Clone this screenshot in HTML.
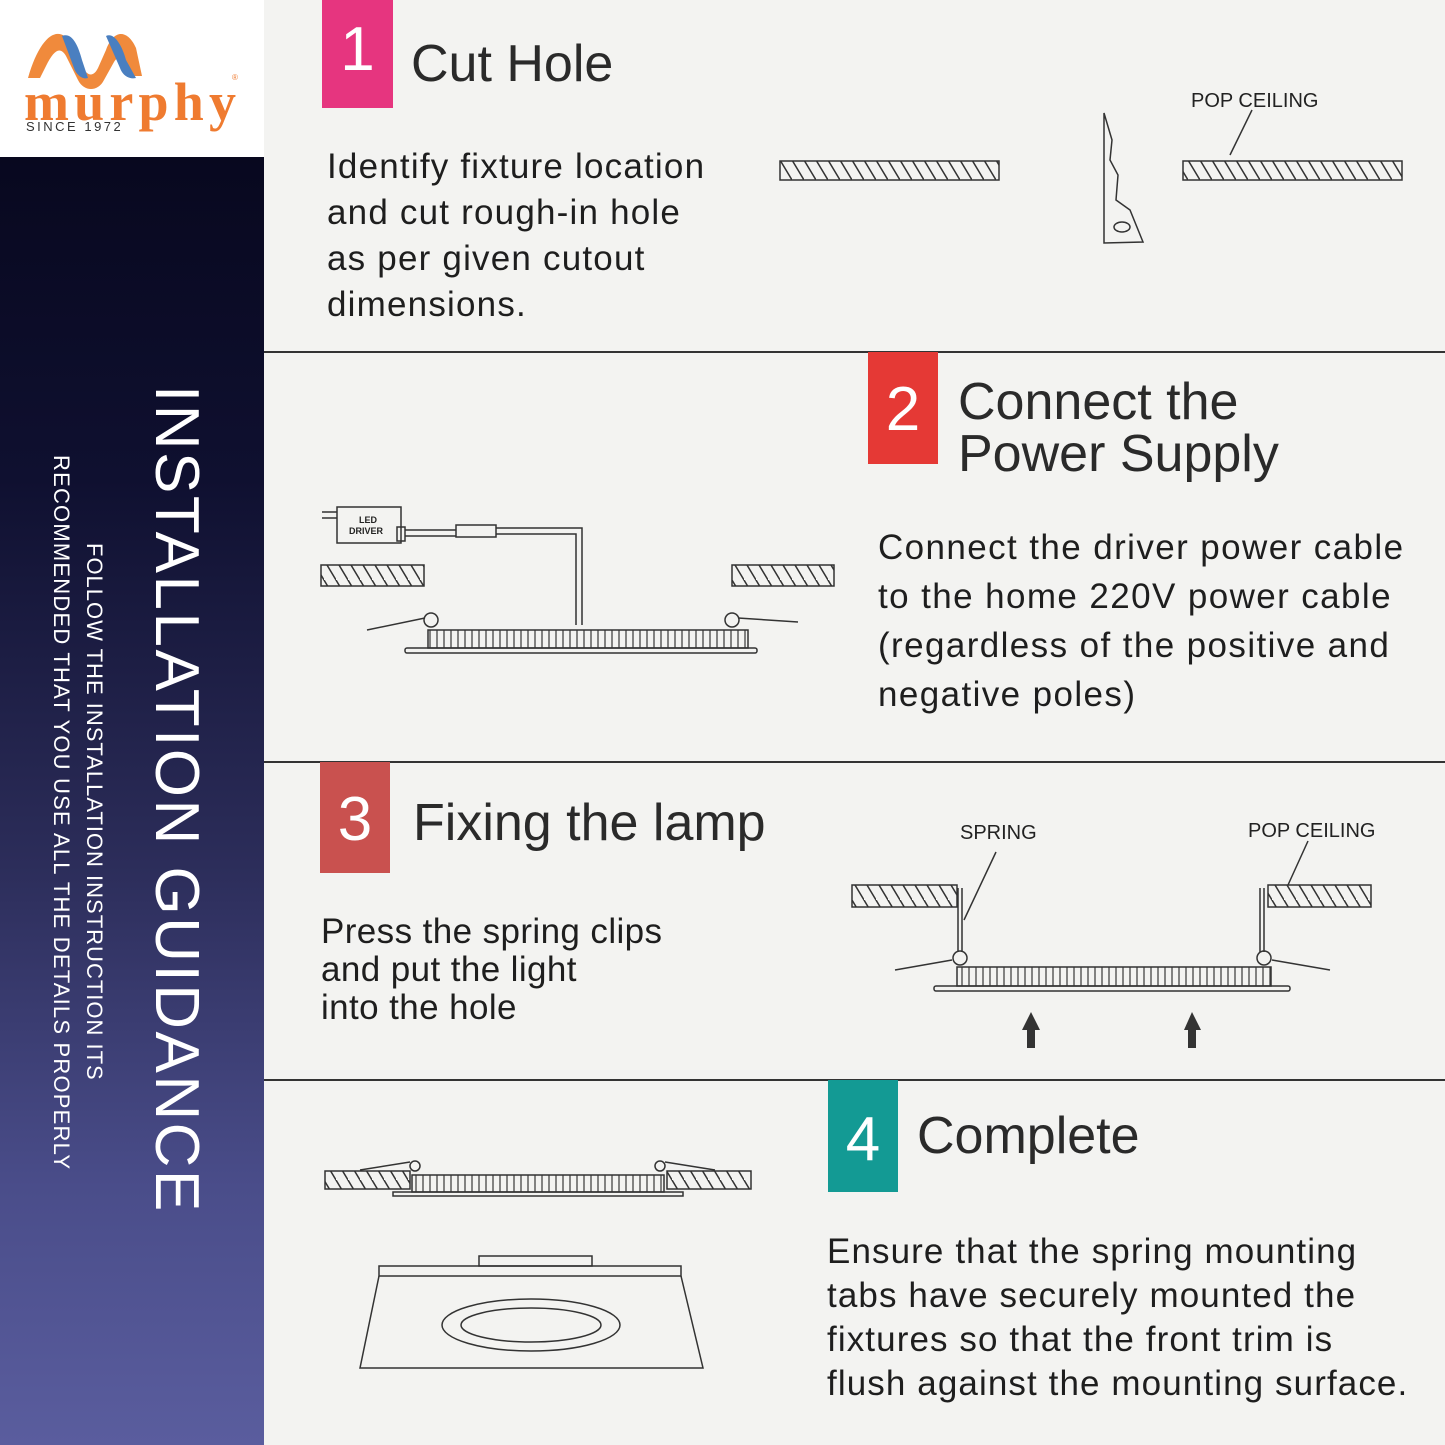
<!DOCTYPE html>
<html><head><meta charset="utf-8"><style>
html,body{margin:0;padding:0}
body{width:1445px;height:1445px;overflow:hidden;background:#f3f3f1;position:relative;font-family:"Liberation Sans",sans-serif}
.side{position:absolute;left:0;top:157px;width:264px;height:1288px;background:linear-gradient(180deg,#08081f 0%,#0f1030 25%,#2c2d5a 55%,#4a4d8a 80%,#5a5d9e 100%)}
.logo{position:absolute;left:0;top:0;width:264px;height:157px;background:#fff}
.t{position:absolute;color:#222;white-space:nowrap}
.num{position:absolute;color:#fff;font-size:62px;text-align:center}
.h{font-size:52px;line-height:52px;color:#2a2a2a}
.b{font-size:35px;line-height:46px;color:#1e1e1e;letter-spacing:1.2px}
.rot{position:absolute;transform-origin:0 0;transform:rotate(90deg);color:#fff;white-space:nowrap}
</style></head><body>
<div class="logo">
<svg width="264" height="157" style="position:absolute;left:0;top:0">
<path d="M28 78 C40 36,58 24,70 42 L82 66 C88 78,94 76,98 68 L106 50 C114 28,128 30,136 48 L142 76 L128 76 C122 60,118 55,114 62 L104 80 C98 92,84 92,78 80 L66 56 C60 46,54 50,46 66 L40 78 Z" fill="#f08a3c"/>
<path d="M62 36 C72 32,78 45,82 60 L88 78 C82 80,76 74,74 68 Z M106 36 C114 32,122 45,126 60 L136 78 C128 80,122 74,120 68 Z" fill="#4a7fc0"/>
<text x="24" y="120" font-family="Liberation Serif,serif" font-weight="bold" font-size="54" fill="#ef7b30" textLength="212">murphy</text>
<text x="232" y="80" font-size="8" fill="#ef7b30">®</text>
<text x="26" y="131" font-size="13" fill="#333" letter-spacing="2.5">SINCE 1972</text>
</svg></div>
<div class="side"></div>
<div class="rot" style="left:212px;top:385px;font-size:62px;letter-spacing:2.5px">INSTALLATION GUIDANCE</div>
<div class="rot" style="left:107px;top:543px;font-size:22px;letter-spacing:1px">FOLLOW THE INSTALLATION INSTRUCTION ITS</div>
<div class="rot" style="left:74px;top:455px;font-size:22px;letter-spacing:1.2px">RECOMMENDED THAT YOU USE ALL THE DETAILS PROPERLY</div>

<svg width="1445" height="1445" style="position:absolute;left:0;top:0">
<defs>
<pattern id="hat" width="12" height="20" patternUnits="userSpaceOnUse"><path d="M0 0 L12 20 M-6 -10 L6 10 M6 -10 L18 10" stroke="#333" stroke-width="1.5"/></pattern>
<pattern id="fin" width="7" height="20" patternUnits="userSpaceOnUse"><path d="M3 0 V20" stroke="#444" stroke-width="1.3"/></pattern>
</defs>
<g stroke="#333" stroke-width="2">
<line x1="264" y1="352" x2="1445" y2="352"/>
<line x1="264" y1="762" x2="1445" y2="762"/>
<line x1="264" y1="1080" x2="1445" y2="1080"/>
</g>
<rect x="322" y="0" width="71" height="108" fill="#e6357f"/>
<rect x="868" y="352" width="70" height="112" fill="#e53935"/>
<rect x="320" y="762" width="70" height="111" fill="#c9514f"/>
<rect x="828" y="1080" width="70" height="112" fill="#139a94"/>
<g fill="url(#hat)" stroke="#333" stroke-width="1.5">
<rect x="780" y="161" width="219" height="19"/><rect x="1183" y="161" width="219" height="19"/>
<rect x="321" y="565" width="103" height="21"/><rect x="732" y="565" width="102" height="21"/>
<rect x="852" y="885" width="105" height="22"/><rect x="1268" y="885" width="103" height="22"/>
<rect x="325" y="1171" width="85" height="18"/><rect x="667" y="1171" width="84" height="18"/>
</g>
<g fill="none" stroke="#333" stroke-width="1.5">
<path d="M1104 113 L1112 140 L1110 160 L1118 175 L1116 200 L1130 210 L1143 242 L1104 243 Z"/><ellipse cx="1122" cy="227" rx="8" ry="5"/>
<line x1="1230" y1="155" x2="1252" y2="110"/>
<rect x="337" y="507" width="64" height="36"/><rect x="397" y="527" width="8" height="14"/>
<path d="M322 512 H337 M322 518 H337 M405 530 H456 M405 536 H456"/><rect x="456" y="525" width="40" height="12"/>
<path d="M496 528 H582 V625 M496 534 H576 V625"/>
<rect x="428" y="630" width="320" height="18" fill="url(#fin)"/><rect x="405" y="648" width="352" height="5" rx="2"/>
<circle cx="431" cy="620" r="7"/><circle cx="732" cy="620" r="7"/><path d="M367 630 L425 618 M738 618 L798 622"/>
<path d="M958 888 V952 M962 888 V952 M1260 888 V952 M1264 888 V952 M964 920 L996 852 M1288 885 L1308 841"/>
<rect x="957" y="967" width="314" height="19" fill="url(#fin)"/><rect x="934" y="986" width="356" height="5" rx="2"/>
<circle cx="960" cy="958" r="7"/><circle cx="1264" cy="958" r="7"/><path d="M895 970 L952 960 M1272 960 L1330 970"/>
<rect x="412" y="1175" width="252" height="17" fill="url(#fin)"/><rect x="393" y="1192" width="290" height="4"/>
<circle cx="415" cy="1166" r="5"/><circle cx="660" cy="1166" r="5"/><path d="M360 1170 L410 1162 M665 1162 L715 1170"/>
<rect x="479" y="1256" width="113" height="10"/><rect x="379" y="1266" width="302" height="10"/>
<path d="M379 1276 L360 1368 H703 L681 1276"/>
<ellipse cx="531" cy="1325" rx="89" ry="26"/><ellipse cx="531" cy="1325" rx="70" ry="17"/>
</g>
<g fill="#333"><path d="M1022 1030 L1031 1012 L1040 1030 H1035 V1048 H1027 V1030Z M1184 1030 L1192 1012 L1201 1030 H1196 V1048 H1188 V1030Z"/></g>
<g font-size="20" fill="#222"><text x="1191" y="107">POP CEILING</text><text x="960" y="839">SPRING</text><text x="1248" y="837">POP CEILING</text></g>
<g font-size="9" font-weight="bold" fill="#222"><text x="359" y="523">LED</text><text x="349" y="534">DRIVER</text></g>
</svg>

<div class="num" style="left:322px;top:14px;width:71px">1</div>
<div class="num" style="left:868px;top:374px;width:70px">2</div>
<div class="num" style="left:320px;top:784px;width:70px">3</div>
<div class="num" style="left:828px;top:1104px;width:70px">4</div>
<div class="t h" style="left:411px;top:38px">Cut Hole</div>
<div class="t b" style="left:327px;top:144px">Identify fixture location<br>and cut rough-in hole<br>as per given cutout<br>dimensions.</div>
<div class="t h" style="left:958px;top:376px">Connect the<br>Power Supply</div>
<div class="t b" style="left:878px;top:523px;line-height:49px;letter-spacing:1.4px">Connect the driver power cable<br>to the home 220V power cable<br>(regardless of the positive and<br>negative poles)</div>
<div class="t h" style="left:413px;top:797px">Fixing the lamp</div>
<div class="t b" style="left:321px;top:913px;line-height:38px;letter-spacing:0.4px">Press the spring clips<br>and put the light<br>into the hole</div>
<div class="t h" style="left:917px;top:1110px">Complete</div>
<div class="t b" style="left:827px;top:1230px;line-height:44px;letter-spacing:1.1px">Ensure that the spring mounting<br>tabs have securely mounted the<br>fixtures so that the front trim is<br>flush against the mounting surface.</div>
</body></html>
